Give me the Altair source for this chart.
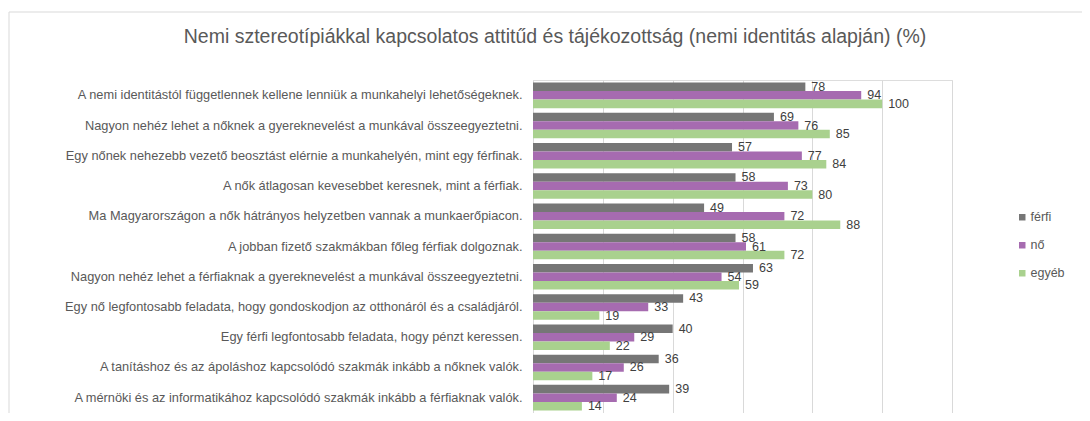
import altair as alt
import pandas as pd

title_text = "Nemi sztereotípiákkal kapcsolatos attitűd és tájékozottság (nemi identitás alapján) (%)"
categories = [
    "A nemi identitástól függetlennek kellene lenniük a munkahelyi lehetőségeknek.",
    "Nagyon nehéz lehet a nőknek a gyereknevelést a munkával összeegyeztetni.",
    "Egy nőnek nehezebb vezető beosztást elérnie a munkahelyén, mint egy férfinak.",
    "A nők átlagosan kevesebbet keresnek, mint a férfiak.",
    "Ma Magyarországon a nők hátrányos helyzetben vannak a munkaerőpiacon.",
    "A jobban fizető szakmákban főleg férfiak dolgoznak.",
    "Nagyon nehéz lehet a férfiaknak a gyereknevelést a munkával összeegyeztetni.",
    "Egy nő legfontosabb feladata, hogy gondoskodjon az otthonáról és a családjáról.",
    "Egy férfi legfontosabb feladata, hogy pénzt keressen.",
    "A tanításhoz és az ápoláshoz kapcsolódó szakmák inkább a nőknek valók.",
    "A mérnöki és az informatikához kapcsolódó szakmák inkább a férfiaknak valók.",
]
series_names = ["férfi", "nő", "egyéb"]
ferfi = [78, 69, 57, 58, 49, 58, 63, 43, 40, 36, 39]
no = [94, 76, 77, 73, 72, 61, 54, 33, 29, 26, 24]
egyeb = [100, 85, 84, 80, 88, 72, 59, 19, 22, 17, 14]
colors = ["#767676", "#A66BB0", "#A9D18E"]
x_ticks = [0, 20, 40, 60, 80, 100, 120]

rows = []
for s, vals in zip(series_names, [ferfi, no, egyeb]):
    for c, v in zip(categories, vals):
        rows.append({"cat": c, "series": s, "value": v})
df = pd.DataFrame(rows)

FONT = "Liberation Sans"

base = alt.Chart(df).encode(
    y=alt.Y(
        "cat:N",
        sort=categories,
        scale=alt.Scale(paddingInner=0.15, paddingOuter=0.08),
        axis=alt.Axis(
            title=None,
            labelFontSize=12.8,
            labelColor="#595959",
            labelFont=FONT,
            labelPadding=11,
            ticks=False,
            domainColor="#d9d9d9",
            labelLimit=600,
        ),
    ),
    yOffset=alt.YOffset("series:N", sort=series_names, scale=alt.Scale(paddingInner=0, paddingOuter=0)),
)

bars = base.mark_bar().encode(
    x=alt.X(
        "value:Q",
        scale=alt.Scale(domain=[0, 120]),
        axis=alt.Axis(
            values=x_ticks,
            labels=False,
            ticks=False,
            domain=False,
            gridColor="#d9d9d9",
            title=None,
        ),
    ),
    color=alt.Color(
        "series:N",
        sort=series_names,
        scale=alt.Scale(domain=series_names, range=colors),
        legend=alt.Legend(
            title=None,
            orient="none",
            legendX=483,
            legendY=131,
            symbolType="square",
            symbolSize=42,
            symbolStrokeWidth=0,
            labelFontSize=12.5,
            labelFont=FONT,
            labelColor="#595959",
            rowPadding=15,
            labelOffset=2,
        ),
    ),
)

labels = base.mark_text(align="left", baseline="middle", dx=6, fontSize=12.5, font=FONT, color="#404040").encode(
    x=alt.X("value:Q"),
    text=alt.Text("value:Q"),
)

frame_df = pd.DataFrame({"t": [title_text]})
top_rule = alt.Chart(frame_df).mark_rule(color="#d9d9d9", strokeWidth=1).encode(
    x=alt.value(-524), x2=alt.value(560), y=alt.value(-68)
)
left_rule = alt.Chart(frame_df).mark_rule(color="#d9d9d9", strokeWidth=1).encode(
    x=alt.value(-524), y=alt.value(-68), y2=alt.value(340)
)
title = alt.Chart(frame_df).mark_text(
    align="center", baseline="middle", fontSize=19.5, font=FONT, color="#595959"
).encode(x=alt.value(22), y=alt.value(-43), text="t:N")

chart = alt.layer(top_rule, left_rule, title, bars, labels).properties(
    width=419,
    height=333,
    autosize=alt.AutoSizeParams(type="none"),
    padding={"left": 525, "top": 72, "right": 130, "bottom": 0},
).configure_view(stroke=None).configure(background="white")

chart.save("out.html", embed_options={"renderer": "svg", "actions": False})
